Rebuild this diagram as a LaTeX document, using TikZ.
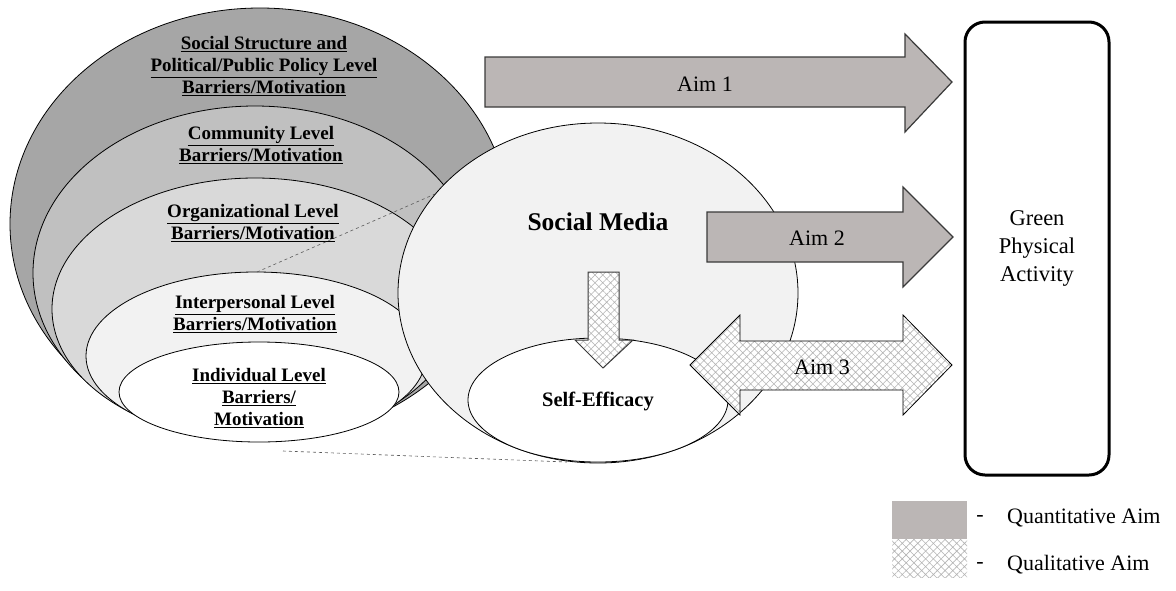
\documentclass[tikz,border=0pt]{standalone}
\usepackage{fontspec}
\setmainfont{Liberation Serif}
\usetikzlibrary{patterns.meta}

\definecolor{outerGray}{HTML}{A6A6A6}
\definecolor{commGray}{HTML}{C0C0C0}
\definecolor{orgGray}{HTML}{D9D9D9}
\definecolor{interGray}{HTML}{F2F2F2}
\definecolor{mediaGray}{HTML}{F2F2F2}
\definecolor{aimGray}{HTML}{BBB6B5}
\definecolor{aimEdge}{HTML}{3A3A3A}
\definecolor{hatchGray}{HTML}{B4B4B4}

\begin{document}
\begin{tikzpicture}[x=1pt,y=-1pt,
    lvl/.style={draw=black,line width=0.8pt},
    lvltext/.style={align=center,font=\fontsize{19}{22}\selectfont\bfseries},
    aimbar/.style={fill=aimGray,draw=aimEdge,line width=1.2pt},
    qualfill/.style={preaction={fill=white},pattern={Hatch[angle=45,distance=5.5pt,line width=0.6pt]},pattern color=hatchGray},
    aimtext/.style={font=\fontsize{22}{26}\selectfont},
    zoomline/.style={dashed,draw=gray!70!black,line width=0.6pt}]
  \useasboundingbox (0,0) rectangle (1176,590);

  % nested levels
  \draw[lvl,fill=outerGray] (260,224) ellipse [x radius=250,y radius=216];
  \draw[lvl,fill=commGray] (255,273) ellipse [x radius=222,y radius=167];
  \draw[lvl,fill=orgGray] (255,309) ellipse [x radius=203,y radius=131];
  \draw[lvl,fill=interGray] (256,356) ellipse [x radius=170,y radius=84];
  \draw[lvl,fill=white] (259,392) ellipse [x radius=140,y radius=50];

  \node[lvltext] (policy) at (264,66) {\underline{Social Structure and}\\\underline{Political/Public Policy Level}\\\underline{Barriers/Motivation}};
  \node[lvltext] (community) at (261,145) {\underline{Community Level}\\\underline{Barriers/Motivation}};
  \node[lvltext] (organization) at (253,223) {\underline{Organizational Level}\\\underline{Barriers/Motivation}};
  \node[lvltext] (interpersonal) at (255,314) {\underline{Interpersonal Level}\\\underline{Barriers/Motivation}};
  \node[lvltext] (individual) at (259,398) {\underline{Individual Level}\\\underline{Barriers/}\\\underline{Motivation}};

  % zoom lines
  \coordinate (interTop) at (257,272);
  \coordinate (mediaEdge) at (435,194);
  \coordinate (indivBot) at (283,451);
  \coordinate (efficacyBot) at (567,462);
  \draw[zoomline] (interTop) -- (mediaEdge);
  \draw[zoomline] (indivBot) -- (efficacyBot);

  % social media
  \draw[lvl,fill=mediaGray] (598,293) ellipse [x radius=200,y radius=170];
  \draw[lvl,fill=white] (598,400) ellipse [x radius=130,y radius=62];
  \node[font=\fontsize{25.5}{30}\selectfont\bfseries] (media) at (598,222) {Social Media};
  \node[font=\fontsize{20.5}{24}\selectfont\bfseries] (efficacy) at (598,401) {Self-Efficacy};
  \draw[qualfill,draw=aimEdge,line width=1pt] (588,272) -- (619,272) -- (619,340) -- (633,340)
    -- (603,368) -- (575,340) -- (588,340) -- cycle;

  % aims
  \draw[aimbar] (485,57) -- (905,57) -- (905,34) -- (952,82) -- (905,132) -- (905,107) -- (485,107) -- cycle;
  \node[aimtext] (aim1) at (705,84) {Aim 1};
  \draw[aimbar] (707,212) -- (903,212) -- (903,187) -- (953,237) -- (903,287) -- (903,262) -- (707,262) -- cycle;
  \node[aimtext] (aim2) at (817,238) {Aim 2};
  \draw[qualfill,draw=black,line width=0.8pt] (690,365) -- (740,315) -- (740,341) -- (903,341) -- (903,315)
    -- (952,365) -- (903,415) -- (903,390) -- (740,390) -- (740,415) -- cycle;
  \node[aimtext] (aim3) at (822,367) {Aim 3};

  % outcome
  \node[draw,line width=3pt,rounded corners=20pt,minimum width=144,minimum height=453,
    align=center,font=\fontsize{22.5}{28}\selectfont] (activity) at (1037,248.5) {Green\\Physical\\Activity};

  % legend
  \node[fill=aimGray,minimum width=75,minimum height=38,inner sep=0pt] (quantKey) at (929.5,520) {};
  \node[qualfill,minimum width=75,minimum height=38,inner sep=0pt] (qualKey) at (929.5,558.5) {};
  \node[aimtext] (quantDash) at (980,518) {-};
  \node[aimtext] (qualDash) at (980,565) {-};
  \node[aimtext,anchor=west,inner sep=0pt] (quantLabel) at (1007,518) {Quantitative Aim};
  \node[aimtext,anchor=west,inner sep=0pt] (qualLabel) at (1007,565) {Qualitative Aim};
\end{tikzpicture}
\end{document}
